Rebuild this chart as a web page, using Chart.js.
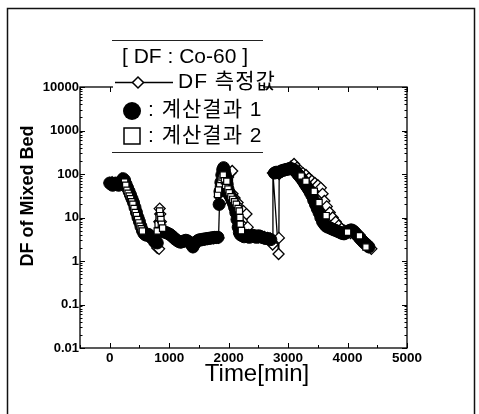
<!DOCTYPE html>
<html><head><meta charset="utf-8">
<script src="https://cdn.jsdelivr.net/npm/chart.js@4"></script>
<style>html,body{margin:0;padding:0;background:#fff;overflow:hidden}#wrap{width:479px;height:414px;position:relative}</style>
</head><body><div id="wrap"><canvas id="c" width="479" height="414"></canvas></div>
<script>
// Measured DF (open diamonds, line)
const measX = [0,40,80,120,160,200,240,280,320,360,400,440,480,520,560,600,640,680,720,760,800,830,835,840,850,860,880,920,960,1000,1050,1100,1150,1200,1250,1300,1350,1400,1450,1500,1550,1600,1650,1700,1750,1790,1830,1850,1870,1890,1920,1900,1950,1990,2030,2060,2065,2100,2150,2200,2215,2250,2300,2320,2340,2380,2420,2460,2500,2550,2600,2650,2700,2740,2745,2840,2845,2850,2900,2950,3000,3050,3100,3150,3200,3250,3300,3350,3400,3450,3500,3550,3580,3610,3650,3700,3750,3800,3850,3900,3950,4000,4050,4100,4150,4200,4250,4300,4350,4400];
const measY = [62,65,58,60,62,78,72,55,40,30,22,15,10,7,5,4.2,3.8,3.3,2.9,2.4,2.0,1.9,8,16,12,8,5.5,4.8,4.5,4.2,3.8,3.2,2.9,2.7,2.8,2.8,2.5,2.1,2.6,2.9,3.0,3.1,3.2,3.3,3.3,3.4,3.4,30,60,95,135,24,100,85,105,117,35,28,22,16,7,14,12,6,4,3.8,3.6,3.8,3.5,3.7,3.6,3.4,3.3,2.4,105,1.45,3.4,100,115,125,135,150,170,140,120,105,95,80,70,62,55,48,35,24,18,13,10,8,6.5,5.5,5.0,4.6,4.4,4.6,4.4,4.0,3.2,2.4,2.1,1.9];
// Calculation result 1 (filled circles)
const calc1X = [0,25,50,75,100,125,150,175,200,225,250,275,300,325,350,375,400,425,450,475,500,525,550,575,600,625,650,675,700,725,750,775,800,860,890,920,950,980,1010,1040,1070,1100,1130,1160,1190,1220,1250,1280,1310,1340,1370,1400,1430,1460,1490,1520,1550,1580,1610,1640,1670,1700,1730,1760,1790,1820,1840,1855,1870,1885,1900,1915,1930,1945,1960,1975,1990,2005,2020,2040,2060,2080,2100,2120,2140,2160,2180,2200,2230,2260,2290,2320,2350,2380,2410,2440,2470,2500,2530,2560,2590,2620,2650,2680,2710,2770,2800,2830,2860,2890,2920,2950,2980,3010,3040,3070,3100,3130,3160,3190,3220,3250,3280,3310,3340,3370,3400,3430,3460,3490,3520,3550,3580,3610,3640,3670,3700,3730,3760,3790,3820,3850,3880,3910,3940,3970,4000,4030,4060,4090,4120,4150,4180,4210,4240,4270,4300,4330,4360];
const calc1Y = [62,58,55,60,62,58,55,60,68,78,72,58,48,40,33,27,22,17,13,10,8,6.2,5,4.3,4,3.9,4.1,3.8,3.5,3.2,3.0,2.8,2.6,5,4.8,4.6,4.5,4.3,4.1,3.8,3.5,3.2,3.0,2.8,2.7,2.8,2.9,3.0,2.9,2.7,2.4,2.1,2.5,2.8,3.0,3.1,3.1,3.2,3.2,3.3,3.3,3.4,3.4,3.5,3.5,3.5,20,40,65,95,125,140,120,95,75,58,45,38,32,28,25,21,17,13,9,6,4.5,4.0,3.8,3.6,3.9,3.6,3.5,3.8,3.9,3.6,3.5,3.8,3.7,3.5,3.4,3.3,3.3,3.2,3.1,105,110,108,112,118,122,125,128,130,135,130,125,115,100,90,80,70,60,52,45,38,32,25,20,16,13,10,8,7,6.3,6,5.8,5.5,5.3,5.1,4.9,4.7,4.5,4.3,4.2,4.4,4.7,5.0,5.2,5.0,4.6,4.1,3.7,3.3,3.0,2.7,2.5,2.3,2.1];
// Calculation result 2 (open squares)
const calc2X = [250,270,290,310,330,350,370,390,410,430,450,470,490,510,530,550,800,815,830,840,850,860,870,890,1815,1830,1850,1870,1890,1910,1930,1950,1970,1990,2010,2040,2070,2100,2130,2160,2180,2190,2195,2215,3220,3300,3440,3520,3640,4000,4200,4310];
const calc2Y = [65,55,42,36,31,27,23,20,16,13,11,9,7.5,6.3,5.5,4.9,4.9,7,10,14,11,9,7,5.7,34,45,60,75,85,95,70,55,68,45,37,30,26,23,20,16,14,10,7,5,90,68,40,22,11,4.6,3.8,2.1];
const xTicks = [0,1000,2000,3000,4000,5000];
const yTicks = [0.01,0.1,1,10,100,1000,10000];
const yTickLabels = ['0.01','0.1','1','10','100','1000','10000'];
const legendTitle = '[ DF : Co-60 ]';
const seriesNames = ['DF 측정값', ': 계산결과 1', ': 계산결과 2'];
const xTitle = 'Time[min]';
const yTitle = 'DF of Mixed Bed';

const pts = (xs, ys) => xs.map((x, i) => ({x: x, y: ys[i]}));

const deco = {
  id: 'deco',
  beforeDraw(chart) {
    const ctx = chart.ctx;
    ctx.save();
    ctx.fillStyle = '#fff';
    ctx.fillRect(0, 0, chart.width, chart.height);
    ctx.strokeStyle = '#111';
    ctx.lineWidth = 1.5;
    ctx.strokeRect(7.5, 8.5, 467, 430);
    ctx.restore();
  },
  afterDatasetsDraw(chart) {
    const ctx = chart.ctx, a = chart.chartArea;
    const xs = chart.scales.x, ys = chart.scales.y;
    ctx.save();
    ctx.strokeStyle = '#000';
    ctx.lineWidth = 1.3;
    ctx.strokeRect(a.left, a.top, a.right - a.left, a.bottom - a.top);
    ctx.lineWidth = 1;
    ctx.beginPath();
    for (let v = -500; v <= 5000; v += 500) {
      const px = Math.round(xs.getPixelForValue(v)) + 0.5;
      const L = (v % 1000 === 0) ? 5 : 3;
      ctx.moveTo(px, a.bottom); ctx.lineTo(px, a.bottom - L);
      ctx.moveTo(px, a.top); ctx.lineTo(px, a.top + L);
    }
    for (let e = -2; e <= 4; e++) {
      for (let m = 1; m <= 9; m++) {
        const v = m * Math.pow(10, e);
        if (v > 10000) break;
        const py = Math.round(ys.getPixelForValue(v)) + 0.5;
        const L = m === 1 ? 5 : 2.5;
        ctx.moveTo(a.left, py); ctx.lineTo(a.left + L, py);
        ctx.moveTo(a.right, py); ctx.lineTo(a.right - L, py);
      }
    }
    ctx.stroke();

    // axis titles
    ctx.fillStyle = '#000';
    ctx.textAlign = 'center';
    ctx.textBaseline = 'middle';
    ctx.font = '24px "Liberation Sans", Arial, sans-serif';
    ctx.fillText(xTitle, 257, 374);
    ctx.save();
    ctx.translate(28, 196);
    ctx.rotate(-Math.PI / 2);
    ctx.font = 'bold 18px "Liberation Sans", Arial, sans-serif';
    ctx.fillText(yTitle, 0, 0);
    ctx.restore();

    // legend
    ctx.fillStyle = '#fff';
    ctx.fillRect(113, 41, 150, 111);
    ctx.strokeStyle = '#222';
    ctx.lineWidth = 1.2;
    ctx.beginPath();
    ctx.moveTo(112, 40.5); ctx.lineTo(263, 40.5);
    ctx.moveTo(112, 152.5); ctx.lineTo(263, 152.5);
    ctx.stroke();
    ctx.fillStyle = '#000';
    ctx.font = '21px "Liberation Sans", Arial, sans-serif';
    ctx.textAlign = 'center';
    ctx.fillText(legendTitle, 185, 57);
    ctx.strokeStyle = '#000';
    ctx.lineWidth = 1.3;
    ctx.beginPath();
    ctx.moveTo(115, 82.5); ctx.lineTo(173, 82.5);
    ctx.stroke();
    ctx.fillStyle = '#fff';
    ctx.lineWidth = 1.5;
    ctx.beginPath(); ctx.moveTo(138,77); ctx.lineTo(143.5,82.5); ctx.lineTo(138,88); ctx.lineTo(132.5,82.5); ctx.closePath(); ctx.fill(); ctx.stroke();
    ctx.fillStyle = '#000';
    ctx.beginPath(); ctx.arc(132, 111, 9, 0, Math.PI * 2); ctx.fill();
    ctx.fillStyle = '#fff';
    ctx.fillRect(124, 128, 16, 16);
    ctx.strokeRect(124, 128, 16, 16);
    ctx.fillStyle = '#000';
    ctx.textAlign = 'left';
    ctx.font = '21px "Liberation Sans", "Noto Sans CJK KR", sans-serif';
    ctx.letterSpacing = '1px';
    ctx.fillText(seriesNames[0], 178, 82);
    ctx.fillText(seriesNames[1], 148, 110);
    ctx.fillText(seriesNames[2], 148, 136);
    ctx.restore();
  }
};

new Chart(document.getElementById('c'), {
  type: 'scatter',
  data: {
    datasets: [
      {label: 'calc2', data: pts(calc2X, calc2Y), pointStyle: 'rect', pointRadius: 4.5,
       backgroundColor: '#fff', borderColor: '#000', borderWidth: 1.2, showLine: false},
      {label: 'calc1', data: pts(calc1X, calc1Y), pointStyle: 'circle', pointRadius: 6,
       backgroundColor: '#000', borderColor: '#000', borderWidth: 1, showLine: false},
      {label: 'meas', data: pts(measX, measY), pointStyle: 'rectRot', pointRadius: 5.5,
       backgroundColor: '#fff', borderColor: '#000', showLine: true, borderWidth: 1.3, tension: 0}
    ]
  },
  options: {
    responsive: false, animation: false,
    layout: {padding: {top: 87, right: 72, left: 0, bottom: 0}},
    plugins: {legend: {display: false}, tooltip: {enabled: false}},
    scales: {
      x: {
        type: 'linear', min: -500, max: 5000,
        afterBuildTicks: s => { s.ticks = xTicks.map(v => ({value: v})); },
        afterFit: s => { s.height = 66; },
        grid: {display: false, drawTicks: false}, border: {display: false},
        ticks: {color: '#000', padding: 2, maxRotation: 0, autoSkip: false,
                font: {family: '"Liberation Sans", Arial, sans-serif', size: 13.5, weight: 'bold'},
                callback: v => String(v)}
      },
      y: {
        type: 'logarithmic', min: 0.01, max: 10000,
        afterBuildTicks: s => { s.ticks = yTicks.map(v => ({value: v})); },
        afterFit: s => { s.width = 80; },
        grid: {display: false, drawTicks: false}, border: {display: false},
        ticks: {color: '#000', padding: 1, autoSkip: false,
                font: {family: '"Liberation Sans", Arial, sans-serif', size: 13, weight: 'bold'},
                callback: (v, i) => yTickLabels[i]}
      }
    }
  },
  plugins: [deco]
});
</script>
</body></html>
